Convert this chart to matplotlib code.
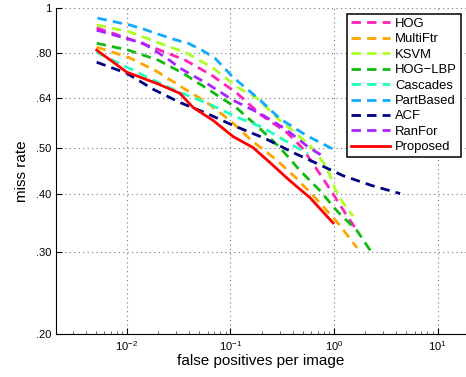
import math

import matplotlib
matplotlib.use("Agg")
import matplotlib.pyplot as plt
from matplotlib.ticker import FixedLocator, FuncFormatter, LogLocator, NullFormatter, NullLocator

plt.rcParams["font.family"] = ["Liberation Sans", "DejaVu Sans"]

# ── data ───────────────────────────────────────────────────────
fppi_hog = [0.0051, 0.0077, 0.0166, 0.0365, 0.066, 0.116, 0.20, 0.35, 0.49, 0.73, 0.96, 1.37, 1.63]
mr_hog   = [0.906, 0.879, 0.828, 0.773, 0.717, 0.656, 0.588, 0.541, 0.502, 0.441, 0.402, 0.355, 0.336]

fppi_multiftr = [0.0051, 0.0103, 0.0187, 0.034, 0.059, 0.099, 0.161, 0.27, 0.44, 0.70, 1.09, 1.67]
mr_multiftr   = [0.824, 0.784, 0.735, 0.676, 0.627, 0.574, 0.519, 0.475, 0.430, 0.386, 0.346, 0.306]

fppi_ksvm = [0.0051, 0.0107, 0.0208, 0.038, 0.068, 0.118, 0.18, 0.30, 0.40, 0.586, 0.837, 1.02, 1.22, 1.53]
mr_ksvm   = [0.919, 0.888, 0.840, 0.800, 0.743, 0.676, 0.640, 0.574, 0.546, 0.507, 0.459, 0.410, 0.382, 0.358]

fppi_hoglbp = [0.0051, 0.0103, 0.020, 0.035, 0.063, 0.116, 0.193, 0.30, 0.47, 0.73, 1.07, 1.67, 2.38]
mr_hoglbp   = [0.840, 0.812, 0.773, 0.724, 0.666, 0.609, 0.551, 0.502, 0.448, 0.406, 0.367, 0.333, 0.296]

fppi_cascades = [0.0051, 0.010, 0.018, 0.0325, 0.0605, 0.118, 0.206, 0.376, 0.56]
mr_cascades   = [0.804, 0.746, 0.700, 0.659, 0.624, 0.582, 0.554, 0.512, 0.487]

fppi_partbased = [0.0052, 0.0077, 0.0107, 0.0144, 0.020, 0.028, 0.039, 0.053, 0.071, 0.106, 0.185, 0.30, 0.548, 1.0]
mr_partbased   = [0.951, 0.933, 0.919, 0.901, 0.879, 0.857, 0.840, 0.812, 0.780, 0.710, 0.640, 0.579, 0.532, 0.497]

fppi_acf = [0.0051, 0.010, 0.018, 0.0325, 0.0593, 0.106, 0.216, 0.401, 0.70, 1.22, 2.33, 4.35]
mr_acf   = [0.765, 0.724, 0.669, 0.627, 0.594, 0.560, 0.525, 0.490, 0.463, 0.437, 0.416, 0.400]

fppi_ranfor = [0.0051, 0.0143, 0.0243, 0.0325, 0.059, 0.106, 0.193, 0.336, 0.56, 0.77]
mr_ranfor   = [0.896, 0.840, 0.780, 0.743, 0.689, 0.634, 0.594, 0.551, 0.504, 0.482]

fppi_proposed = [0.0051, 0.010, 0.0194, 0.0325, 0.0435, 0.0679, 0.106, 0.165, 0.241, 0.376, 0.586, 0.98]
mr_proposed   = [0.812, 0.728, 0.689, 0.656, 0.612, 0.574, 0.530, 0.502, 0.466, 0.426, 0.392, 0.346]

y_ticks       = [0.20, 0.30, 0.40, 0.50, 0.64, 0.80, 1.0]
y_tick_labels = [".20", ".30", ".40", ".50", ".64", ".80", "1"]
x_ticks       = [1e-2, 1e-1, 1e0, 1e1]

series = [
    ("HOG",       fppi_hog,       mr_hog,       "#ff22bb"),
    ("MultiFtr",  fppi_multiftr,  mr_multiftr,  "#ffa500"),
    ("KSVM",      fppi_ksvm,      mr_ksvm,      "#aaff22"),
    ("HOG\u2212LBP", fppi_hoglbp, mr_hoglbp,    "#11bb11"),
    ("Cascades",  fppi_cascades,  mr_cascades,  "#22ffbb"),
    ("PartBased", fppi_partbased, mr_partbased, "#11aaff"),
    ("ACF",       fppi_acf,       mr_acf,       "#000080"),
    ("RanFor",    fppi_ranfor,    mr_ranfor,    "#aa22ff"),
]

# ── figure ─────────────────────────────────────────────────────
fig = plt.figure(figsize=(4.66, 3.77), dpi=100)
ax = fig.add_axes([0.120, 0.114, 0.880, 0.865])

for name, xs, ys, col in series:
    ax.plot(xs, ys, color=col, lw=2.0, linestyle=(0, (3.4, 2.2)), label=name)
ax.plot(fppi_proposed, mr_proposed, color="red", lw=2.0, label="Proposed")

ax.set_xscale("log")
ax.set_yscale("log")
ax.set_xlim(10 ** -2.686, 10 ** 1.275)
ax.set_ylim(0.2, 1.0)

ax.xaxis.set_major_locator(FixedLocator(x_ticks))
ax.xaxis.set_major_formatter(FuncFormatter(lambda v, p: r"$\mathregular{10^{%d}}$" % round(math.log10(v))))
ax.xaxis.set_minor_locator(LogLocator(base=10, subs=range(2, 10)))
ax.xaxis.set_minor_formatter(NullFormatter())

ax.yaxis.set_major_locator(FixedLocator(y_ticks))
ax.yaxis.set_major_formatter(FuncFormatter(
    lambda v, p: y_tick_labels[min(range(len(y_ticks)), key=lambda i: abs(y_ticks[i] - v))]))
ax.yaxis.set_minor_locator(NullLocator())

ax.tick_params(which="both", direction="in", labelsize=8, colors="black")
ax.tick_params(which="major", length=4)
ax.tick_params(which="minor", length=2.5, color="#555555")

ax.grid(True, which="major", linestyle=(0, (1, 3)), color="#777777", lw=0.8)

ax.spines["top"].set_visible(False)
ax.spines["right"].set_visible(False)

ax.set_xlabel("false positives per image", fontsize=11, labelpad=1)
ax.set_ylabel("miss rate", fontsize=11, labelpad=5)

leg = ax.legend(loc="upper right", bbox_to_anchor=(461 / 466, 1 - 14 / 377),
                bbox_transform=fig.transFigure, borderaxespad=0,
                fontsize=9.4, handlelength=3.0, handletextpad=0.4,
                labelspacing=0.25, borderpad=0.3, fancybox=False,
                framealpha=1, edgecolor="black")
leg.get_frame().set_linewidth(1.1)

fig.savefig("out.png", dpi=100)
